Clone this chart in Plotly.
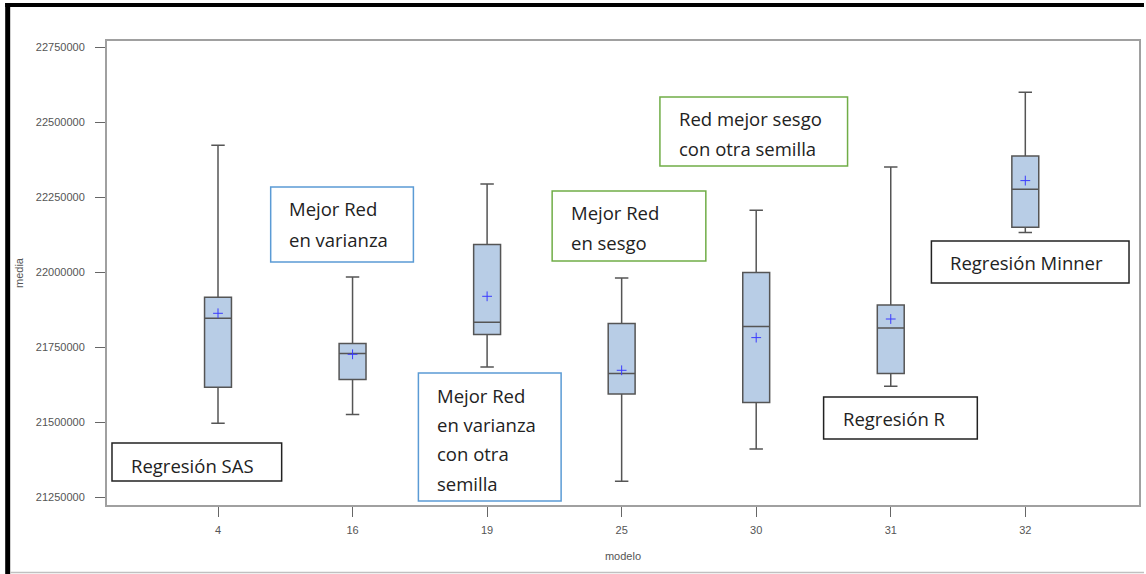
import plotly.graph_objects as go

# ---- data ----
modelos = ["4", "16", "19", "25", "30", "31", "32"]
q1_vals = [21616667, 21642333, 21792333, 21594333, 21565667, 21662333, 22150000]
median_vals = [21846667, 21729000, 21833333, 21662333, 21819000, 21814333, 22276667]
q3_vals = [21916667, 21762333, 22092333, 21829000, 21999000, 21891000, 22387667]
low_vals = [21496667, 21525667, 21684333, 21303333, 21411000, 21620000, 22132333]
high_vals = [22423333, 21984333, 22294333, 21981000, 22206667, 22351000, 22600000]
mean_vals = [21863333, 21726667, 21920000, 21673333, 21782333, 21844333, 22305667]
y_ticks = [21250000, 21500000, 21750000, 22000000, 22250000, 22500000, 22750000]

W, H = 1146, 574
L, R, T, B = 107, 1141, 41, 505

def px(x):
    return (x - L) / (R - L)

def py(y):
    return (B - y) / (B - T)

fig = go.Figure()
fig.add_trace(go.Box(
    x=modelos, q1=q1_vals, median=median_vals, q3=q3_vals,
    lowerfence=low_vals, upperfence=high_vals,
    width=0.2, whiskerwidth=0.5,
    fillcolor="#b8cde6", line=dict(color="#555555", width=1.5),
    boxpoints=False, showlegend=False, hoverinfo="skip",
))
fig.add_trace(go.Scatter(
    x=modelos, y=mean_vals, mode="markers",
    marker=dict(symbol="cross-thin", size=7, line=dict(color="#3b3bff", width=1)),
    showlegend=False, hoverinfo="skip",
))

tickfont = dict(family="Liberation Sans Narrow, Arial Narrow, Arial", size=11, color="#555555")

fig.update_layout(
    width=W, height=H,
    margin=dict(l=L, r=W - R, t=T, b=H - B),
    paper_bgcolor="white", plot_bgcolor="white",
    xaxis=dict(
        type="category", range=[-0.825, 6.845],
        showgrid=False, zeroline=False,
        showline=True, linecolor="#a0a0a0", linewidth=2, mirror=True,
        ticks="outside", ticklen=10, tickcolor="#666666", tickwidth=1,
        tickfont=tickfont, ticklabelstandoff=4,
        title=dict(text="modelo", font=dict(family="Liberation Sans Narrow, Arial", size=11, color="#555555"), standoff=17),
    ),
    yaxis=dict(
        range=[21224333, 22771000],
        tickvals=y_ticks, ticktext=[str(v) for v in y_ticks],
        showgrid=False, zeroline=False,
        showline=True, linecolor="#a0a0a0", linewidth=2, mirror=True,
        ticks="outside", ticklen=10, tickcolor="#666666", tickwidth=1,
        tickfont=tickfont, ticklabelstandoff=8,
        title=dict(text="media", font=dict(family="Liberation Sans Narrow, Arial", size=11, color="#555555"), standoff=10),
    ),
)

shapes = []
# outer black frame (left and top) and bottom grey line
shapes.append(dict(type="rect", xref="paper", yref="paper", x0=px(5), x1=px(10), y0=py(574), y1=py(3),
                   fillcolor="black", line=dict(width=0), layer="above"))
shapes.append(dict(type="rect", xref="paper", yref="paper", x0=px(5), x1=px(1146), y0=py(7), y1=py(3),
                   fillcolor="black", line=dict(width=0), layer="above"))
shapes.append(dict(type="line", xref="paper", yref="paper", x0=px(10), x1=px(1146), y0=py(572.5), y1=py(572.5),
                   line=dict(color="#c0c0c0", width=1.5)))

boxes = [
    # x0, y0, x1, y1, border, text x, [(text, y)]
    (112, 443, 282, 481, "#222222", 129, [("Regresión SAS", 465)]),
    (271, 187, 414, 262, "#5b9bd5", 287, [("Mejor Red", 208), ("en varianza", 239)]),
    (419, 373, 562, 501, "#5b9bd5", 436, [("Mejor Red", 395), ("en varianza", 424), ("con otra", 453), ("semilla", 483)]),
    (553, 191, 707, 261, "#70ad47", 570, [("Mejor Red", 212), ("en sesgo", 242)]),
    (661, 97, 849, 166, "#70ad47", 678, [("Red mejor sesgo", 118), ("con otra semilla", 148)]),
    (825, 397, 979, 439, "#222222", 842, [("Regresión R", 418)]),
    (933, 241, 1131, 283, "#222222", 950, [("Regresión Minner", 262)]),
]
annotations = []
for x0, y0, x1, y1, col, tx, lines in boxes:
    shapes.append(dict(type="rect", xref="paper", yref="paper",
                       x0=px(x0), x1=px(x1), y0=py(y1), y1=py(y0),
                       fillcolor="white", line=dict(color=col, width=1.5), layer="above"))
    for text, ty in lines:
        annotations.append(dict(xref="paper", yref="paper", x=px(tx), y=py(ty),
                                xanchor="left", yanchor="middle", showarrow=False,
                                text=text, font=dict(family="Open Sans", size=18.5, color="#222222")))

fig.update_layout(shapes=shapes, annotations=annotations)
fig.write_html("out.html")
